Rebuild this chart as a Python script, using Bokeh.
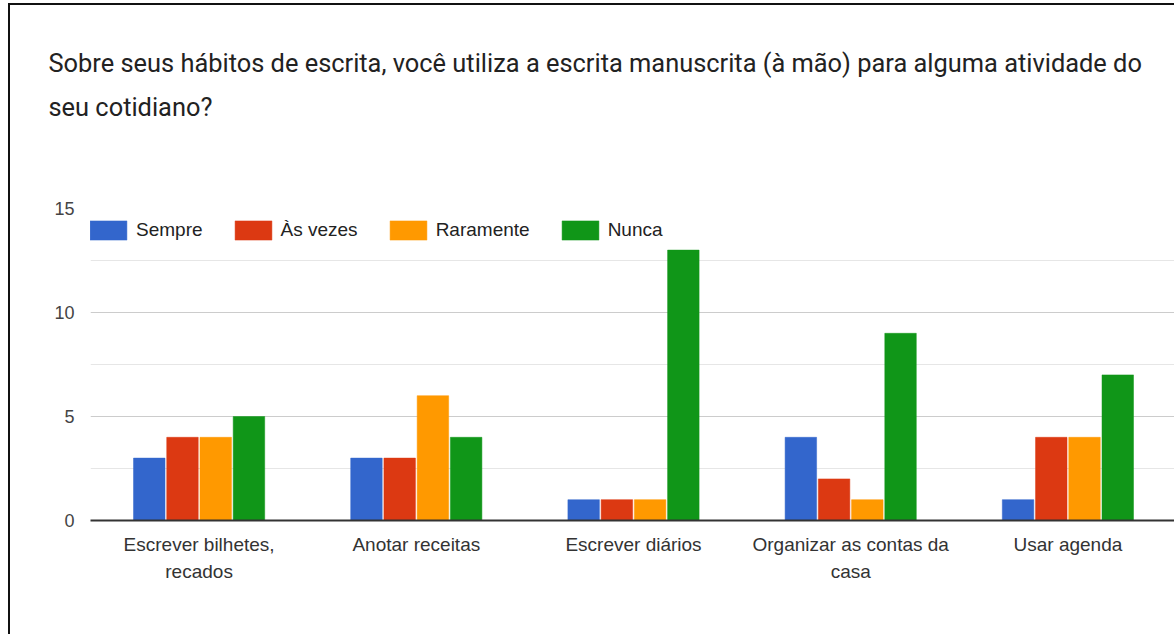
from bokeh.plotting import figure
from bokeh.models import FactorRange, Legend, LegendItem, ColumnDataSource, FixedTicker, Title
from bokeh.transform import dodge
from bokeh.embed import file_html
from bokeh.resources import INLINE

categories = ["Escrever bilhetes, recados", "Anotar receitas", "Escrever diários",
              "Organizar as contas da casa", "Usar agenda"]
series = ["Sempre", "Às vezes", "Raramente", "Nunca"]
sempre = [3, 3, 1, 4, 1]
as_vezes = [4, 3, 1, 2, 4]
raramente = [4, 6, 1, 1, 4]
nunca = [5, 4, 13, 9, 7]
colors = ["#3366CC", "#DC3912", "#FF9900", "#109618"]
wrapped = {"Escrever bilhetes, recados": "Escrever bilhetes,\nrecados",
           "Organizar as contas da casa": "Organizar as contas da\ncasa"}
title_text = ("Sobre seus hábitos de escrita, você utiliza a escrita manuscrita (à mão) para alguma atividade do\n"
              "seu cotidiano?")

display = [wrapped.get(c, c) for c in categories]
src = ColumnDataSource(dict(cat=display, s0=sempre, s1=as_vezes, s2=raramente, s3=nunca))

p = figure(x_range=FactorRange(factors=display, range_padding=0), y_range=(0, 15), title=None,
           width=1166, height=631, output_backend="svg", toolbar_location=None,
           min_border_left=80, min_border_right=0, min_border_bottom=116, min_border_top=0)
p.styles = {"border-top": "2px solid #111", "border-left": "2px solid #111",
            "margin-left": "8px", "margin-top": "3px"}

spacer = Title(text=" ", text_font_size="1px", standoff=43)
p.add_layout(spacer, "above")
main_title = Title(text=title_text, text_font="Roboto", text_font_size="25.4px",
                   text_font_style="normal", text_color="#222222", text_line_height=1.47,
                   offset=-42, standoff=81)
p.add_layout(main_title, "above")

step = 0.153
renderers = []
for i, col in enumerate(["s0", "s1", "s2", "s3"]):
    r = p.vbar(x=dodge("cat", (i - 1.5) * step, range=p.x_range), top=col, width=0.145,
               source=src, fill_color=colors[i], line_color=colors[i], line_width=0.5)
    renderers.append(r)

legend = Legend(items=[LegendItem(label=s, renderers=[r]) for s, r in zip(series, renderers)],
                orientation="horizontal", location=(-5, 278),
                glyph_width=46, glyph_height=24, label_standoff=5, spacing=27,
                padding=0, margin=0, border_line_color=None, background_fill_alpha=0,
                label_text_font="Liberation Sans", label_text_font_size="19px",
                label_text_color="#222222")
p.add_layout(legend, "center")

p.outline_line_color = None
p.xgrid.grid_line_color = None
p.ygrid.grid_line_color = "#cccccc"
p.ygrid.minor_grid_line_color = "#e6e6e6"
p.yaxis.ticker = FixedTicker(ticks=[0, 5, 10, 15], minor_ticks=[2.5, 7.5, 12.5])
p.yaxis.axis_line_color = None
p.yaxis.major_tick_line_color = None
p.yaxis.minor_tick_line_color = None
p.yaxis.major_label_text_font = "Liberation Sans"
p.yaxis.major_label_text_font_size = "18px"
p.yaxis.major_label_text_color = "#444444"
p.yaxis.major_label_standoff = 10

p.xaxis.axis_line_color = "#333333"
p.xaxis.axis_line_width = 2
p.xaxis.major_tick_line_color = None
p.xaxis.minor_tick_line_color = None
p.xaxis.major_label_text_font = "Liberation Sans"
p.xaxis.major_label_text_font_size = "19px"
p.xaxis.major_label_text_color = "#333333"
p.xaxis.major_label_text_line_height = 1.3
p.xaxis.major_label_standoff = 7

open("out.html", "w").write(file_html(p, INLINE))
